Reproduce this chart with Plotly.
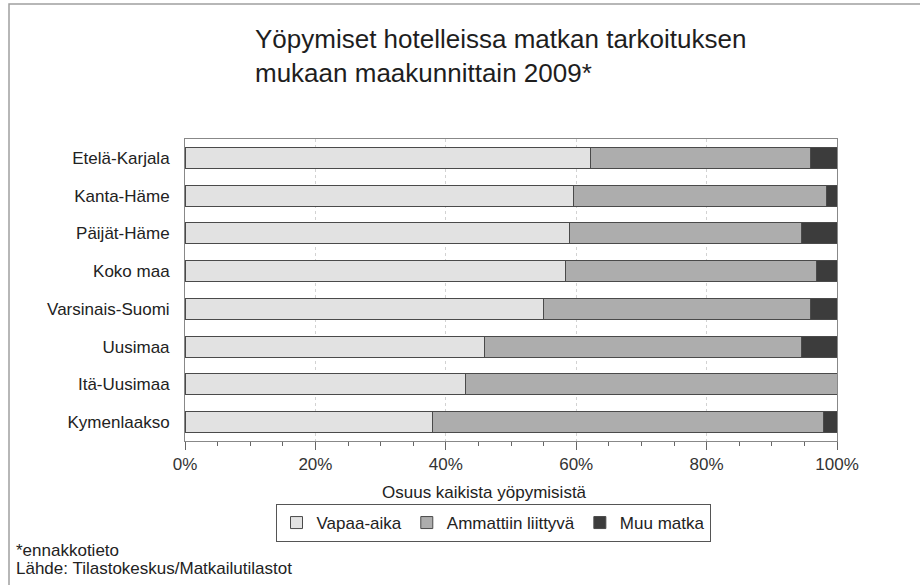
import plotly.graph_objects as go

categories = ["Etelä-Karjala", "Kanta-Häme", "Päijät-Häme", "Koko maa",
              "Varsinais-Suomi", "Uusimaa", "Itä-Uusimaa", "Kymenlaakso"]
vapaa_aika = [62.2, 59.6, 59.0, 58.4, 55.0, 46.0, 43.0, 37.9]
ammatti = [33.7, 38.8, 35.6, 38.4, 40.9, 48.6, 57.0, 60.0]
muu_matka = [4.1, 1.6, 5.4, 3.2, 4.1, 5.4, 0.0, 2.1]
series_names = ["Vapaa-aika", "Ammattiin liittyvä", "Muu matka"]
x_ticks = [0, 20, 40, 60, 80, 100]
title_text = "Yöpymiset hotelleissa matkan tarkoituksen<br>mukaan maakunnittain 2009*"
x_title = "Osuus kaikista yöpymisistä"
notes = ["*ennakkotieto", "Lähde: Tilastokeskus/Matkailutilastot"]

FONT = "Liberation Sans, Arial, Helvetica, sans-serif"
W, H = 920, 585
L, R, T, B = 185, 83, 139, 144
pw, ph = W - L - R, H - T - B


def px_x(x):
    return (x - L) / pw


def px_y(y):
    return (H - B - y) / ph


colors = ["#e2e2e2", "#adadad", "#3c3c3c"]
fig = go.Figure()
for name, vals, c in zip(series_names, [vapaa_aika, ammatti, muu_matka], colors):
    fig.add_trace(go.Bar(
        y=categories, x=vals, name=name, orientation="h",
        marker=dict(color=c, line=dict(color="#4a4a4a", width=1)),
    ))

fig.update_layout(
    width=W, height=H,
    margin=dict(l=L, r=R, t=T, b=B),
    paper_bgcolor="white", plot_bgcolor="white",
    barmode="stack", bargap=0.44,
    font=dict(family=FONT, size=17, color="#222222"),
    title=dict(
        text=title_text,
        x=255 / W, xanchor="left", xref="container",
        y=1 - 48 / H, yanchor="top", yref="container",
        font=dict(family=FONT, size=26, color="#1e1e1e"),
    ),
    legend=dict(
        orientation="h", x=px_x(493), xanchor="center",
        y=px_y(523), yanchor="middle",
        bordercolor="#555555", borderwidth=1, bgcolor="white",
        font=dict(size=17), traceorder="normal",
        itemwidth=30,
    ),
    showlegend=True,
)

fig.update_xaxes(
    range=[0, 100], tickvals=x_ticks, ticktext=[f"{v}%" for v in x_ticks],
    showgrid=True, gridcolor="#d2d2d2", griddash="dot", gridwidth=1,
    showline=True, linecolor="#888888", linewidth=1, mirror=True,
    ticks="outside", ticklen=8, tickcolor="#666666", ticklabelstandoff=0,
    minor=dict(dtick=5, ticks="outside", ticklen=4, tickcolor="#666666", showgrid=False),
    zeroline=False,
    tickfont=dict(size=17, color="#333333"),
)
fig.update_yaxes(
    autorange="reversed",
    showline=True, linecolor="#888888", linewidth=1, mirror=True,
    showgrid=False, ticks="", ticklabelstandoff=11,
    tickfont=dict(size=17, color="#222222"),
)

# x-axis title (centred as in the original, slightly left of plot centre)
fig.add_annotation(text=x_title, xref="paper", yref="paper",
                   x=px_x(484), y=px_y(492), xanchor="center", yanchor="middle",
                   showarrow=False, font=dict(size=17, color="#222222"))

for i, note in enumerate(notes):
    fig.add_annotation(text=note, xref="paper", yref="paper",
                       x=px_x(14), y=px_y(550 + 18 * i), xanchor="left", yanchor="middle",
                       showarrow=False, font=dict(size=17, color="#222222"))

# outer frame (left and top edges visible)
fig.add_shape(type="rect", xref="paper", yref="paper",
              x0=px_x(9), x1=px_x(W + 20), y0=px_y(H + 20), y1=px_y(4),
              line=dict(color="#a0a0a0", width=1.5), layer="below")

fig.write_html("out.html", config={"displayModeBar": False},
               post_script="document.body.style.margin='0';")
